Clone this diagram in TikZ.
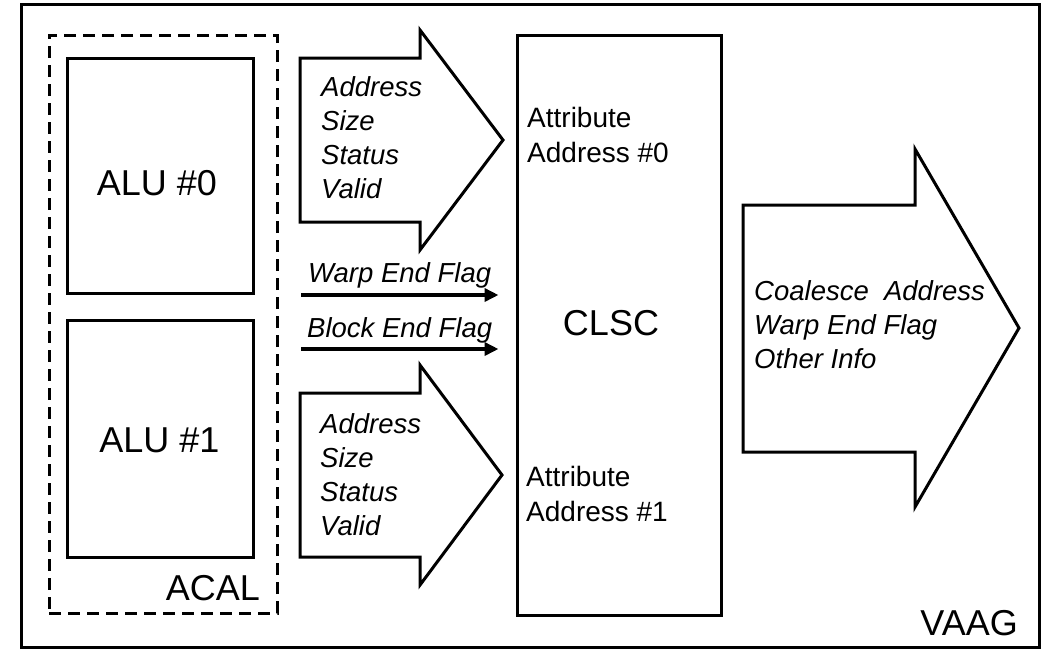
\documentclass[tikz,border=0pt]{standalone}
\usepackage{fontspec}
\setmainfont{Liberation Sans}
\usetikzlibrary{arrows.meta}
\begin{document}
\begin{tikzpicture}[x=1pt,y=-1pt,
  frame/.style={draw, line width=3pt, inner sep=0pt, fill=none},
  dashframe/.style={draw, line width=3pt, inner sep=0pt, dash pattern=on 12pt off 7pt},
  bigtext/.style={font=\fontsize{36}{40}\selectfont, inner sep=0pt},
  lab/.style={font=\itshape\fontsize{27.5}{33.7}\selectfont, align=left, inner sep=0pt},
  attr/.style={font=\fontsize{28}{35}\selectfont, align=left, inner sep=0pt},
  blockarrow/.style={draw, line width=3pt, line join=miter},
  flag/.style={line width=3.5pt, -{Triangle[length=14pt,width=13pt]}}]
\useasboundingbox (0,0) rectangle (1051,649);

% frames
\node[frame, minimum width=1018pt, minimum height=643pt] (vaag) at (530,325.5) {};
\node[dashframe, minimum width=228pt, minimum height=578pt] (acal) at (163,324) {};
\node[frame, minimum width=186pt, minimum height=235pt] (alu0) at (160,175.5) {};
\node[frame, minimum width=186pt, minimum height=237pt] (alu1) at (160,438.5) {};
\node[frame, minimum width=204pt, minimum height=580pt] (clsc) at (619,325) {};

% frame labels
\node[bigtext, anchor=base] (alu0t) at (157,195) {ALU \#0};
\node[bigtext, anchor=base] (alu1t) at (159.5,452) {ALU \#1};
\node[bigtext, anchor=base] (clsct) at (611,335) {CLSC};
\node[bigtext, anchor=base east] (acalt) at (260,600) {ACAL};
\node[bigtext, anchor=base east] (vaagt) at (1018,635) {VAAG};

% block arrows
\draw[blockarrow] (300,58) -- (420,58) -- (420,30) -- (503,140) -- (420,250) -- (420,222) -- (300,222) -- cycle;
\draw[blockarrow] (300,393) -- (420,393) -- (420,365) -- (502,475) -- (420,585) -- (420,557) -- (300,557) -- cycle;
\draw[blockarrow] (743,205) -- (915,205) -- (915,149) -- (1019,328) -- (915,507) -- (915,452) -- (743,452) -- cycle;

% arrow labels (base = baseline of last line)
\node[lab, anchor=base west] (in0) at (321,198) {Address\\Size\\Status\\Valid};
\node[lab, anchor=base west] (in1) at (320,535) {Address\\Size\\Status\\Valid};
\node[lab, anchor=base west] (outt) at (754,368) {Coalesce\ \ Address\\Warp End Flag\\Other Info};

% attribute labels
\node[attr, anchor=base west] (attr0) at (527,162) {Attribute\\Address \#0};
\node[attr, anchor=base west] (attr1) at (526,521) {Attribute\\Address \#1};

% flags
\coordinate (wstart) at (301,295);
\coordinate (bstart) at (301,349);
\draw[flag, shorten >=17pt] (wstart) -- (wstart -| clsc.west);
\draw[flag, shorten >=17pt] (bstart) -- (bstart -| clsc.west);
\node[lab, anchor=base west] (wlab) at (308,282) {Warp End Flag};
\node[lab, anchor=base west] (blab) at (307,337) {Block End Flag};
\end{tikzpicture}
\end{document}
